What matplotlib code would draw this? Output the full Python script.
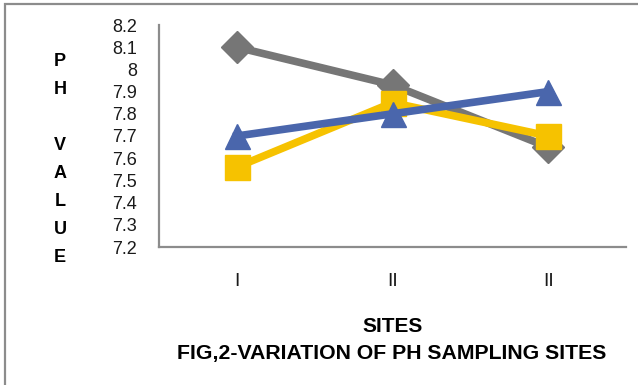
import matplotlib
matplotlib.use("Agg")
import matplotlib.pyplot as plt
from matplotlib.patches import Rectangle

sites = ["I", "II", "II"]
series_gray = [8.10, 7.93, 7.65]
series_yellow = [7.56, 7.85, 7.70]
series_blue = [7.70, 7.80, 7.90]
y_ticks = [7.2, 7.3, 7.4, 7.5, 7.6, 7.7, 7.8, 7.9, 8.0, 8.1, 8.2]
y_tick_labels = ["7.2", "7.3", "7.4", "7.5", "7.6", "7.7", "7.8", "7.9", "8", "8.1", "8.2"]

plt.rcParams["font.family"] = ["Liberation Sans", "DejaVu Sans"]

W, H = 638, 385
fig = plt.figure(figsize=(W / 100, H / 100), dpi=100)

# outer frame of the chart area
fig.patches.append(Rectangle((5 / W, -0.1), 1.2, 1 - 4 / H + 0.1,
                             transform=fig.transFigure, fill=False,
                             edgecolor="#8c8c8c", linewidth=1.6))

ax = fig.add_axes([159 / W, 1 - 247 / H, (626 - 159) / W, (247 - 25) / H])
x = list(range(len(sites)))

ax.plot(x, series_gray, color="#767676", lw=5.5, marker="D", ms=16,
        solid_capstyle="round", zorder=3)
ax.plot(x, series_yellow, color="#F6C200", lw=5.5, marker="s", ms=18,
        zorder=4)
ax.plot(x, series_blue, color="#4A66AC", lw=5.5, marker="^", ms=18,
        zorder=5)

ax.set_xlim(-0.5, len(sites) - 0.5)
ax.set_ylim(7.2, 8.2)
ax.set_yticks(y_ticks)
ax.set_yticklabels(y_tick_labels, fontsize=13, color="#1a1a1a")
ax.set_xticks(x)
ax.set_xticklabels(sites, fontsize=14, color="#1a1a1a")
ax.tick_params(axis="y", length=0, pad=16)
ax.tick_params(axis="x", length=0, pad=19)

for side in ("top", "right"):
    ax.spines[side].set_visible(False)
for side in ("left", "bottom"):
    ax.spines[side].set_color("#8c8c8c")
    ax.spines[side].set_linewidth(1.6)

fig.text(60 / W, 1 - 159.5 / H, "P\nH\n\nV\nA\nL\nU\nE", ha="center", va="center",
         fontsize=13, fontweight="bold", linespacing=1.84)
fig.text(393 / W, 1 - 326 / H, "SITES", ha="center", va="center",
         fontsize=15, fontweight="bold")
fig.text(392 / W, 1 - 353 / H, "FIG,2-VARIATION OF PH SAMPLING SITES",
         ha="center", va="center", fontsize=15.3, fontweight="bold")

fig.savefig("out.png", dpi=100)
